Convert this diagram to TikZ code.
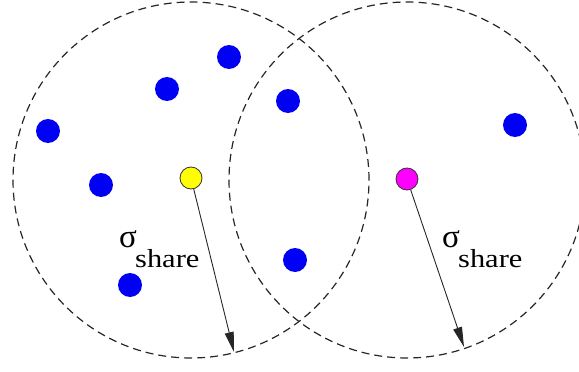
\documentclass[tikz,border=0pt]{standalone}
\usepackage{fontspec}
\setmainfont{Liberation Serif}
\usetikzlibrary{arrows.meta}
\definecolor{ptblue}{RGB}{0,0,245}
\definecolor{ctryellow}{RGB}{255,255,0}
\definecolor{ctrmag}{RGB}{255,0,255}
\begin{document}
\begin{tikzpicture}[x=1pt,y=-1pt,
  zone/.style={draw=black!85, line width=1.2pt, dash pattern=on 8pt off 5pt},
  pt/.style={circle, fill=ptblue, inner sep=0pt, minimum size=24pt},
  ctr/.style={circle, draw=black!80, line width=0.8pt, inner sep=0pt, minimum size=22pt},
  radius arrow/.style={draw=black!85, line width=0.9pt, -{Triangle[length=20pt,width=9pt]}, shorten >=0pt},
  lbl/.style={inner sep=0pt, anchor=base west, font=\fontsize{26}{26}\selectfont},
  sig/.style={inner sep=0pt, anchor=base west, font=\fontsize{33}{33}\selectfont}
]
\useasboundingbox (0,0) rectangle (579,372);
\begin{scope}
\clip (0,0) rectangle (579,372);
\draw[zone] (191,180) circle[radius=178pt];
\draw[zone] (407,180) circle[radius=178pt];
\end{scope}
% population points
\node[pt] (p1) at (229,57) {};
\node[pt] (p2) at (167,89) {};
\node[pt] (p3) at (48,131) {};
\node[pt] (p4) at (101,185) {};
\node[pt] (p5) at (288,101) {};
\node[pt] (p6) at (515,125) {};
\node[pt] (p7) at (295,260) {};
\node[pt] (p8) at (130,285) {};
% centres
\node[ctr, fill=ctryellow] (c1) at (191,178) {};
\node[ctr, fill=ctrmag] (c2) at (407,179) {};
\coordinate (e1) at (234,352);
\coordinate (e2) at (464,347);
\draw[radius arrow] (c1) -- (e1);
\draw[radius arrow] (c2) -- (e2);
% labels
\node[sig] (s1) at (119,247) {σ};
\node[lbl] (h1) at (135,267) {\scalebox{1.17}[1]{share}};
\node[sig] (s2) at (442,247) {σ};
\node[lbl] (h2) at (458,267) {\scalebox{1.17}[1]{share}};
\end{tikzpicture}
\end{document}
